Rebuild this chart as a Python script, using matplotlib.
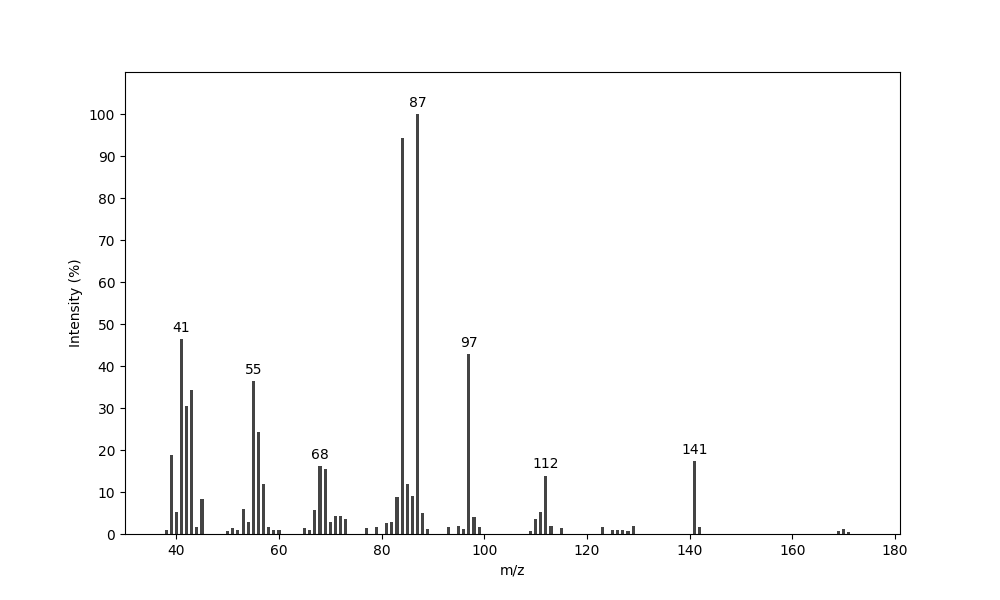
import matplotlib
matplotlib.use("Agg")
from matplotlib import pyplot as plt

# m/z values and relative intensities
mz = [38, 39, 40, 41, 42, 43, 44, 45,
      50, 51, 52, 53, 54, 55, 56, 57, 58, 59, 60,
      65, 66, 67, 68, 69, 70, 71, 72, 73,
      77, 79, 81, 82, 83, 84, 85, 86, 87, 88, 89,
      93, 95, 96, 97, 98, 99,
      109, 110, 111, 112, 113, 115,
      123, 125, 126, 127, 128, 129,
      141, 142,
      169, 170, 171]
intensity = [1.0, 18.7, 5.3, 46.4, 30.4, 34.2, 1.7, 8.4,
             0.8, 1.5, 1.0, 6.0, 2.9, 36.4, 24.4, 12.0, 1.7, 1.0, 1.0,
             1.4, 1.0, 5.7, 16.1, 15.4, 2.9, 4.3, 4.3, 3.6,
             1.4, 1.7, 2.6, 2.9, 8.8, 94.2, 12.0, 9.1, 100.0, 5.1, 1.3,
             1.6, 1.8, 1.1, 42.8, 4.0, 1.6,
             0.8, 3.6, 5.3, 13.9, 1.9, 1.4,
             1.7, 1.0, 1.0, 1.0, 0.7, 1.9,
             17.3, 1.7,
             0.8, 1.2, 0.5]

# peaks that get a label
labeled_peaks = [41, 55, 68, 87, 97, 112, 141]

fig, ax = plt.subplots(figsize=(10, 6), dpi=100)
ax.bar(mz, intensity, width=0.6, color="#444444")

for peak in labeled_peaks:
    y = intensity[mz.index(peak)]
    ax.annotate(str(peak), (peak, y), xytext=(0, 3), textcoords="offset points",
                ha="center", va="bottom", fontsize=10)

ax.set_xlim(30, 181)
ax.set_ylim(0, 110)
ax.set_yticks(range(0, 101, 10))
ax.set_xlabel("m/z")
ax.set_ylabel("Intensity (%)")

plt.savefig("out.png")
